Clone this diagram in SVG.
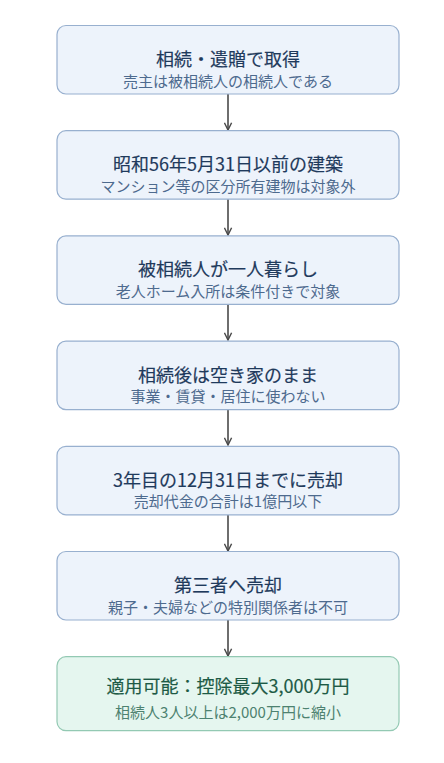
<svg xmlns="http://www.w3.org/2000/svg" width="444" height="763" viewBox="0 0 444 763">
<defs>
<style>
.box{fill:#edf3fb;stroke:#98b0cf;stroke-width:1.2}
.ok{fill:#e5f6ef;stroke:#93c9b3;stroke-width:1.2}
.t{font-family:"Noto Sans CJK JP","Noto Sans",sans-serif;font-size:18px;font-weight:400;fill:#1f3a5c;stroke:#1f3a5c;stroke-width:0.18;text-anchor:middle;dominant-baseline:central}
.s{font-family:"Noto Sans CJK JP","Noto Sans",sans-serif;font-size:15px;fill:#4d6a8e;text-anchor:middle;dominant-baseline:central}
.tg{fill:#1d5a45;stroke:#1d5a45}
.sg{fill:#4d8270}
.c{stroke:#4a4a4a;stroke-width:1.6;fill:none}
</style>
<marker id="ah" viewBox="0 0 10 10" refX="9" refY="5" markerWidth="9" markerHeight="9" markerUnits="userSpaceOnUse" orient="auto">
<path d="M1,1 L9,5 L1,9" fill="none" stroke="#4a4a4a" stroke-width="1.6"/>
</marker>
</defs>
<rect width="444" height="763" fill="#ffffff"/>
<g id="connectors">
<line class="c" x1="228" y1="94" x2="228" y2="130" marker-end="url(#ah)"/>
<line class="c" x1="228" y1="199" x2="228" y2="235" marker-end="url(#ah)"/>
<line class="c" x1="228" y1="304" x2="228" y2="340" marker-end="url(#ah)"/>
<line class="c" x1="228" y1="409" x2="228" y2="445" marker-end="url(#ah)"/>
<line class="c" x1="228" y1="515" x2="228" y2="551" marker-end="url(#ah)"/>
<line class="c" x1="228" y1="620" x2="228" y2="656" marker-end="url(#ah)"/>
</g>
<g id="n1">
<rect class="box" x="57" y="25.5" width="342" height="68.5" rx="9"/>
<text class="t" x="228" y="58">相続・遺贈で取得</text>
<text class="s" x="228" y="80">売主は被相続人の相続人である</text>
</g>
<g id="n2">
<rect class="box" x="57" y="130.7" width="342" height="68.5" rx="9"/>
<text class="t" x="228" y="163.2">昭和56年5月31日以前の建築</text>
<text class="s" x="228" y="185.2">マンション等の区分所有建物は対象外</text>
</g>
<g id="n3">
<rect class="box" x="57" y="235.9" width="342" height="68.5" rx="9"/>
<text class="t" x="228" y="268.4">被相続人が一人暮らし</text>
<text class="s" x="228" y="290.4">老人ホーム入所は条件付きで対象</text>
</g>
<g id="n4">
<rect class="box" x="57" y="341.1" width="342" height="68.5" rx="9"/>
<text class="t" x="228" y="373.6">相続後は空き家のまま</text>
<text class="s" x="228" y="395.6">事業・賃貸・居住に使わない</text>
</g>
<g id="n5">
<rect class="box" x="57" y="446.3" width="342" height="68.5" rx="9"/>
<text class="t" x="228" y="478.8">3年目の12月31日までに売却</text>
<text class="s" x="228" y="500.8">売却代金の合計は1億円以下</text>
</g>
<g id="n6">
<rect class="box" x="57" y="551.5" width="342" height="68.5" rx="9"/>
<text class="t" x="228" y="584">第三者へ売却</text>
<text class="s" x="228" y="606">親子・夫婦などの特別関係者は不可</text>
</g>
<g id="n7">
<rect class="ok" x="57" y="656.7" width="342" height="74" rx="9"/>
<text class="t tg" x="228" y="684.5">適用可能：控除最大3,000万円</text>
<text class="s sg" x="228" y="711.5">相続人3人以上は2,000万円に縮小</text>
</g>
</svg>
